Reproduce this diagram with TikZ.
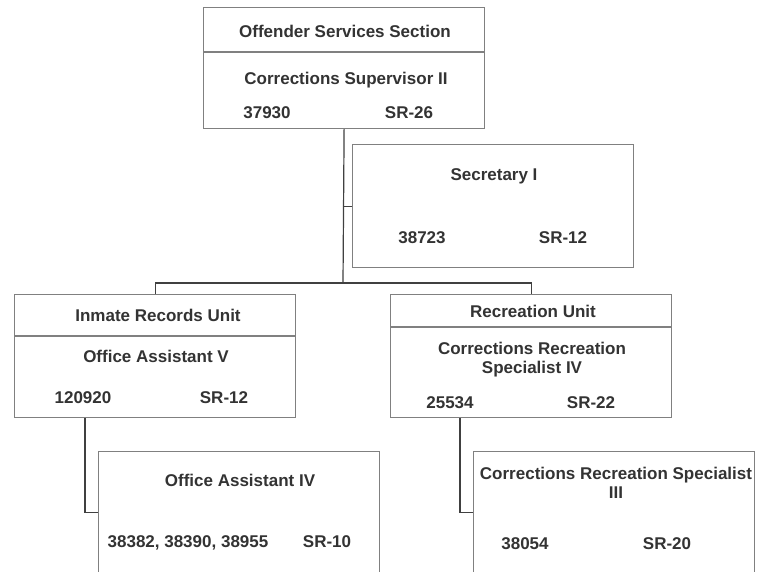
\documentclass[tikz,border=0pt]{standalone}
\usepackage{fontspec}
\setmainfont{Liberation Sans}
\definecolor{boxgray}{RGB}{128,128,128}
\definecolor{linkgray}{RGB}{64,64,64}
\definecolor{textgray}{RGB}{51,51,51}
\begin{document}
\begin{tikzpicture}[x=1pt, y=-1pt,
    box/.style={draw=boxgray, line width=1.2pt, anchor=north west, inner sep=0pt, minimum width=281, minimum height=#1},
    link/.style={draw=linkgray, line width=1.2pt},
    lbl/.style={text=textgray, font=\fontsize{17}{19}\selectfont\bfseries, inner sep=0pt, text height=12pt, text depth=0pt},
    lbltwo/.style={text=textgray, font=\fontsize{17}{19}\selectfont\bfseries, inner sep=0pt, anchor=north, align=center}]
    \useasboundingbox (0,0) rectangle (757,572);
    \clip (0,0) rectangle (757,572);
    \fill[white] (0,0) rectangle (757,572);

    % boxes
    \node[box=121] (oss) at (203,7) {};
    \node[box=123] (sec) at (352,144) {};
    \node[box=123] (inmate) at (14,294) {};
    \node[box=123] (rec) at (390,294) {};
    \node[box=122] (oafour) at (98,451) {};
    \node[box=122] (crsthree) at (473,451) {};
    \draw[boxgray, line width=1.2pt] (oss.west |- 0,52) -- (oss.east |- 0,52);
    \draw[boxgray, line width=1.2pt] (inmate.west |- 0,336) -- (inmate.east |- 0,336);
    \draw[boxgray, line width=1.2pt] (rec.west |- 0,327) -- (rec.east |- 0,327);

    % connectors
    \coordinate (bus) at (343,283);
    \draw[link] (oss.south) -- (bus);
    \draw[link] (sec.west) -- (sec.west -| oss.south);
    \draw[link] (inmate.north) |- (bus) -| (rec.north);
    \draw[link] ([xshift=71pt]inmate.south west) |- (oafour.west);
    \draw[link] ([xshift=70pt]rec.south west) |- (crsthree.west);

    % texts
    \node[lbl] (osstitle) at (345,32) {Offender Services Section};
    \node[lbl] (osspos) at (346,79) {Corrections Supervisor II};
    \node[lbl] (ossnum) at (267,113) {37930};
    \node[lbl] (ossgrade) at (409,113) {SR-26};
    \node[lbl] (secpos) at (494,175) {Secretary I};
    \node[lbl] (secnum) at (422,237) {38723};
    \node[lbl] (secgrade) at (563,237) {SR-12};
    \node[lbl] (inmatetitle) at (158,315) {Inmate Records Unit};
    \node[lbl] (inmatepos) at (156,356) {Office Assistant V};
    \node[lbl] (inmatenum) at (83,397) {120920};
    \node[lbl] (inmategrade) at (224,397) {SR-12};
    \node[lbl] (rectitle) at (533,311) {Recreation Unit};
    \node[lbltwo] (recpos) at (532,342) {Corrections Recreation\\Specialist IV};
    \node[lbl] (recnum) at (450,402) {25534};
    \node[lbl] (recgrade) at (591,402) {SR-22};
    \node[lbl] (oafourpos) at (240,480) {Office Assistant IV};
    \node[lbl] (oafournum) at (188,541) {38382, 38390, 38955};
    \node[lbl] (oafourgrade) at (327,541) {SR-10};
    \node[lbltwo] (crsthreepos) at (616,467) {Corrections Recreation Specialist\\III};
    \node[lbl] (crsthreenum) at (525,543) {38054};
    \node[lbl] (crsthreegrade) at (667,543) {SR-20};
\end{tikzpicture}
\end{document}
